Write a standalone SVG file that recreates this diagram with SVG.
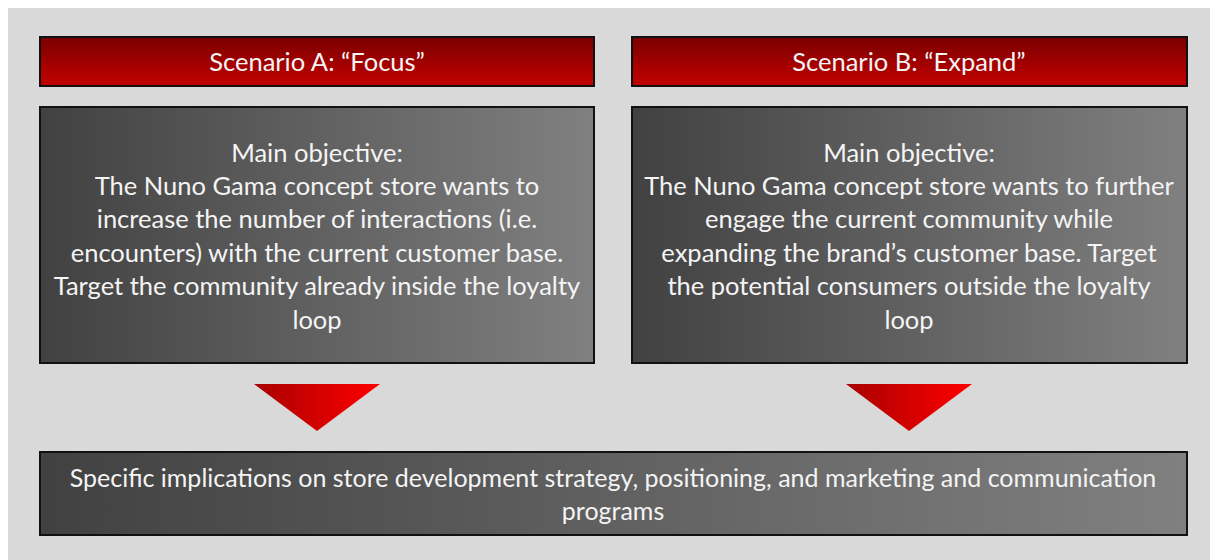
<svg xmlns="http://www.w3.org/2000/svg" width="1210" height="560" viewBox="0 0 1210 560">
  <defs>
    <linearGradient id="redBar" x1="0" y1="0" x2="0" y2="1">
      <stop offset="0" stop-color="#7a0000"/>
      <stop offset="1" stop-color="#c40000"/>
    </linearGradient>
    <linearGradient id="grayPanel" x1="0" y1="0" x2="1" y2="0">
      <stop offset="0" stop-color="#414141"/>
      <stop offset="1" stop-color="#808080"/>
    </linearGradient>
    <linearGradient id="redArrow" x1="0" y1="0" x2="1" y2="0">
      <stop offset="0" stop-color="#a80000"/>
      <stop offset="1" stop-color="#ff0000"/>
    </linearGradient>
    <style>
      .bar { fill: url(#redBar); stroke: #111; stroke-width: 2; }
      .panel { fill: url(#grayPanel); stroke: #111; stroke-width: 2; }
      .arrow { fill: url(#redArrow); }
      .txt { font-family: Lato, "Liberation Sans", sans-serif; font-size: 25.5px; fill: #f4f4f4; text-anchor: middle; }
      .wide { font-size: 25px; }
    </style>
  </defs>

  <!-- backdrop -->
  <rect x="0" y="0" width="1210" height="560" fill="#ffffff"/>
  <rect x="8" y="8" width="1202" height="552" fill="#d9d9d9"/>

  <g id="headerA">
    <rect class="bar" x="40" y="37" width="554" height="49"/>
    <text class="txt" x="317" y="71">Scenario A: “Focus”</text>
  </g>

  <g id="headerB">
    <rect class="bar" x="632" y="37" width="555" height="49"/>
    <text class="txt" x="909" y="71">Scenario B: “Expand”</text>
  </g>

  <g id="objectiveA">
    <rect class="panel" x="40" y="107" width="554" height="256"/>
    <text class="txt" x="317" y="162">Main objective:</text>
    <text class="txt" x="317" y="195">The Nuno Gama concept store wants to</text>
    <text class="txt" x="317" y="228">increase the number of interactions (i.e.</text>
    <text class="txt" x="317" y="262">encounters) with the current customer base.</text>
    <text class="txt" x="317" y="295">Target the community already inside the loyalty</text>
    <text class="txt" x="317" y="329">loop</text>
  </g>

  <g id="objectiveB">
    <rect class="panel" x="632" y="107" width="555" height="256"/>
    <text class="txt" x="909" y="162">Main objective:</text>
    <text class="txt" x="909" y="195">The Nuno Gama concept store wants to further</text>
    <text class="txt" x="909" y="228">engage the current community while</text>
    <text class="txt" x="909" y="262">expanding the brand’s customer base. Target</text>
    <text class="txt" x="909" y="295">the potential consumers outside the loyalty</text>
    <text class="txt" x="909" y="329">loop</text>
  </g>

  <g id="connectors">
    <polygon class="arrow" points="254,384 380,384 317,431"/>
    <polygon class="arrow" points="846,384 972,384 909,431"/>
  </g>

  <g id="implications">
    <rect class="panel" x="40" y="452" width="1147" height="83"/>
    <text class="txt wide" x="613" y="487">Specific implications on store development strategy, positioning, and marketing and communication</text>
    <text class="txt wide" x="613" y="520">programs</text>
  </g>
</svg>
